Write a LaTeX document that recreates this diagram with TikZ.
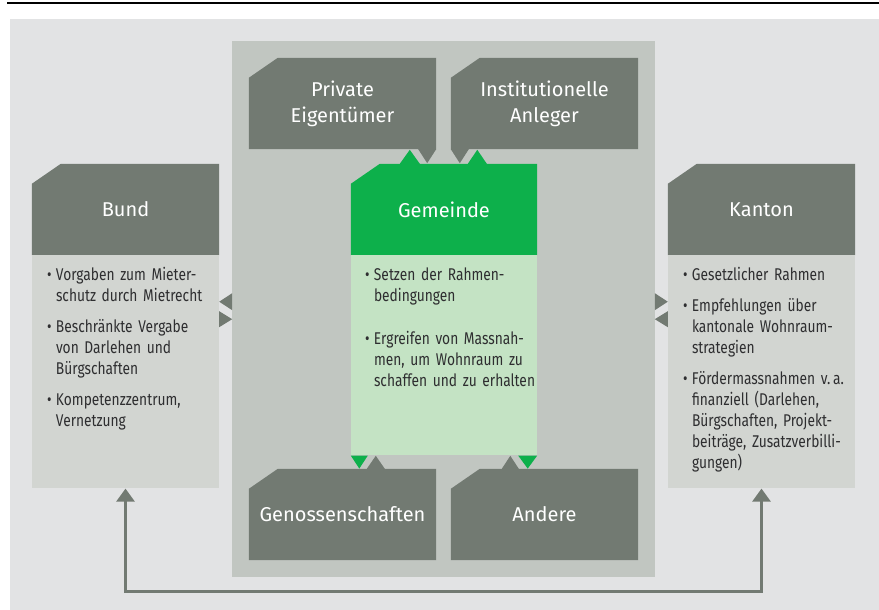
\documentclass[tikz,border=0pt]{standalone}
\usepackage{fontspec}
\setmainfont{Fira Sans}[FakeStretch=0.81]
\newfontfamily\titlefont{Fira Sans}
\usetikzlibrary{arrows.meta,backgrounds}

\definecolor{outergray}{HTML}{E2E3E4}
\definecolor{panelgray}{HTML}{C1C6C1}
\definecolor{boxgray}{HTML}{727A72}
\definecolor{bodygray}{HTML}{D2D5D1}
\definecolor{gemgreen}{HTML}{0DB04B}
\definecolor{gemlight}{HTML}{C4E3C4}
\definecolor{bodyink}{HTML}{2E2E30}

\newcommand{\itm}[1]{\hyphenpenalty=10000\hangindent=9pt\hangafter=1\noindent\makebox[9pt][l]{\textbullet}#1\par}
\newcommand{\chfill}[2]{\fill[#2] ([yshift=-20pt]#1.north west) -- ([xshift=29pt]#1.north west) -- (#1.north east) -- (#1.south east) -- (#1.south west) -- cycle;}

\tikzset{
  headbox/.style={minimum width=187pt, minimum height=91pt, inner sep=0pt, text=white, align=center, font=\titlefont\fontsize{20}{26}\selectfont},
  bodybox/.style={minimum width=187pt, minimum height=233pt, inner sep=0pt, fill=bodygray},
  bodytext/.style={anchor=base west, inner sep=0pt, text width=200pt, align=left, text=bodyink, font=\fontsize{17}{21}\selectfont},
}

\begin{document}
\begin{tikzpicture}[x=1pt, y=-1pt, >={Triangle[width=18pt,length=13pt]}]
    \useasboundingbox (0,0) rectangle (879,610);

    % Bund
    \node[headbox] (bund) at (125.5,209.5) {Bund};
    \node[bodybox, anchor=north] (bundbody) at (bund.south) {};
    \node[bodytext] (bundtxt) at ([shift={(15,25)}]bundbody.north west) {%
        \itm{Vorgaben zum Mieter-\newline schutz durch Mietrecht}\vspace{10pt}
        \itm{Beschränkte Vergabe\newline von Darlehen und\newline Bürgschaften}\vspace{10pt}
        \itm{Kompetenzzentrum,\newline Vernetzung}};

    % Kanton
    \node[headbox] (kanton) at (761.5,209.5) {Kanton};
    \node[bodybox, anchor=north] (kantonbody) at (kanton.south) {};
    \node[bodytext] (kantontxt) at ([shift={(15,25)}]kantonbody.north west) {%
        \itm{Gesetzlicher Rahmen}\vspace{10pt}
        \itm{Empfehlungen über\newline kantonale Wohnraum-\newline strategien}\vspace{10pt}
        \itm{Fördermassnahmen v.\,a.\newline finanziell (Darlehen,\newline Bürgschaften, Projekt-\newline beiträge, Zusatzverbilli-\newline gungen)}};

    % Gemeinde
    \node[headbox, minimum width=186pt] (gemeinde) at (444,209.5) {Gemeinde};
    \node[bodybox, minimum width=186pt, minimum height=200pt, fill=gemlight, anchor=north] (gemeindebody) at (gemeinde.south) {};
    \node[bodytext] (gemeindetxt) at ([shift={(14,25)}]gemeindebody.north west) {%
        \itm{Setzen der Rahmen-\newline bedingungen}\vspace{22pt}
        \itm{Ergreifen von Massnah-\newline men, um Wohnraum zu\newline schaffen und zu erhalten}};

    % Akteure
    \node[headbox] (privat) at (342.5,103.5) {Private\\Eigentümer};
    \node[headbox] (anleger) at (544.5,103.5) {Institutionelle\\Anleger};
    \node[headbox] (genossen) at (342.5,514.5) {Genossenschaften};
    \node[headbox] (andere) at (544.5,514.5) {Andere};

    \begin{scope}[on background layer]
        \fill[outergray] (10,19) rectangle (879,610);
        \draw[line width=2.5pt] (7,3) -- (879,3);
        \fill[panelgray] (232,41) rectangle (655,577);
        \chfill{bund}{boxgray}
        \chfill{kanton}{boxgray}
        \chfill{gemeinde}{gemgreen}
        \chfill{privat}{boxgray}
        \chfill{anleger}{boxgray}
        \chfill{genossen}{boxgray}
        \chfill{andere}{boxgray}
    \end{scope}

    % Spitzen oben
    \fill[boxgray] (privat.south east) -- ++(-18,0) -- ++(9,14) -- cycle;
    \fill[gemgreen] ([xshift=49pt]gemeinde.north west) -- ++(20,0) -- ++(-10,-14) -- cycle;
    \fill[boxgray] (anleger.south west) -- ++(18,0) -- ++(-9,14) -- cycle;
    \fill[gemgreen] ([xshift=117pt]gemeinde.north west) -- ++(19,0) -- ++(-9.5,-14) -- cycle;

    % Spitzen unten
    \fill[gemgreen] (gemeindebody.south west) -- ++(17,0) -- ++(-8.5,13) -- cycle;
    \fill[boxgray] ([xshift=118pt]genossen.north west) -- ++(18,0) -- ++(-9,-13) -- cycle;
    \fill[boxgray] ([xshift=51pt]andere.north west) -- ++(17,0) -- ++(-8.5,-13) -- cycle;
    \fill[gemgreen] (gemeindebody.south east) -- ++(-19,0) -- ++(9.5,13) -- cycle;

    % Spitzen seitlich
    \fill[boxgray] ([shift={(13,38)}]bundbody.north east) -- ++(0,17) -- ++(-13,-8.5) -- cycle;
    \fill[boxgray] ([shift={(0,56)}]bundbody.north east) -- ++(0,16) -- ++(13,-8) -- cycle;
    \fill[boxgray] ([shift={(-13,38)}]kantonbody.north west) -- ++(0,17) -- ++(13,-8.5) -- cycle;
    \fill[boxgray] ([shift={(0,56)}]kantonbody.north west) -- ++(0,16) -- ++(-13,-8) -- cycle;

    % Bund <-> Kanton
    \draw[<->, draw=boxgray, line width=2.7pt] (bundbody.south) -- ++(0,103) -| (kantonbody.south);
\end{tikzpicture}
\end{document}
